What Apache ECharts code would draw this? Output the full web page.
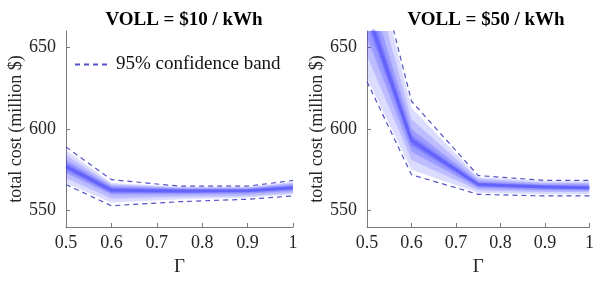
<!DOCTYPE html>
<html>
<head>
<meta charset="utf-8">
<script src="https://cdn.jsdelivr.net/npm/echarts@6/dist/echarts.min.js"></script>
<style>
  html, body { margin: 0; padding: 0; background: #fff; }
  #chart { width: 597px; height: 282px; }
</style>
</head>
<body>
<div id="chart"></div>
<script>
// Γ values sampled
var gammas = [0.5, 0.6, 0.75, 0.9, 1];
var yTicks = [550, 600, 650];

// VOLL = $10 / kWh
var left95Upper = [589, 569, 565, 565, 568.5];
var left95Lower = [566, 553, 555.5, 557, 559];
var leftFillUpper = [587, 567, 564.5, 564.5, 567.5];
var leftFillLower = [567, 555, 557, 558, 560];
var leftMid1Upper = [584, 566, 564, 564, 567];
var leftMid1Lower = [570, 557.5, 558.5, 559, 561];
var leftMid2Upper = [581, 565, 563.5, 563.5, 566];
var leftMid2Lower = [573, 560, 560, 560.5, 562];
var leftCoreUpper = [579, 564, 563, 563, 565];
var leftCoreLower = [575, 561, 561, 561.5, 563];
var leftMedian = [577, 562.5, 562, 562.2, 564];

// VOLL = $50 / kWh
var right95Upper = [725, 617, 571.5, 568.5, 568.5];
var right95Lower = [629, 572, 560, 559, 559];
var rightFillUpper = [722, 613, 570.5, 568, 568];
var rightFillLower = [631, 575, 561, 560, 560];
var rightMid1Upper = [705, 606, 569.5, 567, 567];
var rightMid1Lower = [645, 581, 562.5, 561.5, 561.5];
var rightMid2Upper = [690, 600, 568, 566, 566];
var rightMid2Lower = [656, 586, 564, 562.5, 562.5];
var rightCoreUpper = [680, 596, 567, 565.5, 565];
var rightCoreLower = [665, 590, 565, 563.5, 563];
var rightMedian = [672, 593, 566, 564.5, 564];

var serif = "Liberation Serif";
var textColor = "#262626";
var axisColor = "#7a7a7a";
var dashColor = "#5252c8";

function pairs(ys) {
  return gammas.map(function (g, i) { return [g, ys[i]]; });
}

// one band drawn as a single polygon, positions from api.coord
function band(idx, lower, upper, alpha) {
  var rows = gammas.map(function (g, i) { return [g, lower[i], upper[i]]; });
  var fill = "rgba(70, 70, 255, " + alpha + ")";
  return {
    type: "custom", xAxisIndex: idx, yAxisIndex: idx, silent: true, z: 1,
    data: rows,
    encode: { x: 0, y: [1, 2] },
    renderItem: function (params, api) {
      if (params.dataIndex !== 0) return null;
      var pts = [];
      rows.forEach(function (r) { pts.push(api.coord([r[0], r[2]])); });
      rows.slice().reverse().forEach(function (r) { pts.push(api.coord([r[0], r[1]])); });
      var cs = params.coordSys;
      return {
        type: "polygon",
        shape: { points: pts },
        style: { fill: fill, shadowBlur: 3, shadowColor: fill },
        clipPath: { type: "rect", shape: { x: cs.x, y: cs.y, width: cs.width, height: cs.height } }
      };
    }
  };
}

function median(idx, ys) {
  return {
    type: "line", xAxisIndex: idx, yAxisIndex: idx,
    data: pairs(ys), symbol: "none", silent: true,
    lineStyle: { color: "rgba(60, 60, 245, 0.35)", width: 3, shadowBlur: 5, shadowColor: "rgba(60, 60, 245, 0.5)" }, z: 2
  };
}

function dashed(idx, ys, name) {
  return {
    type: "line", name: name, xAxisIndex: idx, yAxisIndex: idx,
    data: pairs(ys), symbol: "none", silent: true,
    itemStyle: { color: dashColor },
    lineStyle: { color: dashColor, width: 1.2, type: [5, 4] }, z: 3
  };
}

function xAxisOf(idx) {
  return {
    type: "value", gridIndex: idx, min: 0.5, max: 1, interval: 0.1,
    name: "Γ", nameLocation: "middle", nameGap: 31,
    nameTextStyle: { fontFamily: serif, fontSize: 19, color: textColor },
    axisLine: { lineStyle: { color: axisColor, width: 1 } },
    axisTick: { inside: true, length: 4, lineStyle: { color: axisColor } },
    axisLabel: {
      fontFamily: serif, fontSize: 18, color: textColor, margin: 7,
      formatter: function (v) { return String(+v.toFixed(1)); }
    },
    splitLine: { show: false }
  };
}

function yAxisOf(idx) {
  return {
    type: "value", gridIndex: idx, min: 540, max: 660,
    name: "total cost (million $)", nameLocation: "middle", nameGap: 40,
    nameTextStyle: { fontFamily: serif, fontSize: 18, color: textColor },
    axisLine: { show: true, lineStyle: { color: axisColor, width: 1 } },
    axisTick: { show: true, inside: true, length: 4, customValues: yTicks, lineStyle: { color: axisColor } },
    axisLabel: { fontFamily: serif, fontSize: 18, color: textColor, margin: 10, customValues: yTicks },
    splitLine: { show: false }
  };
}

var series = [
  band(0, leftFillLower, leftFillUpper, 0.17),
  band(0, leftMid1Lower, leftMid1Upper, 0.18),
  band(0, leftMid2Lower, leftMid2Upper, 0.22),
  band(0, leftCoreLower, leftCoreUpper, 0.28),
  median(0, leftMedian),
  dashed(0, left95Upper, "95% confidence band"),
  dashed(0, left95Lower, "lower95L"),
  band(1, rightFillLower, rightFillUpper, 0.17),
  band(1, rightMid1Lower, rightMid1Upper, 0.18),
  band(1, rightMid2Lower, rightMid2Upper, 0.22),
  band(1, rightCoreLower, rightCoreUpper, 0.28),
  median(1, rightMedian),
  dashed(1, right95Upper, "upper95R"),
  dashed(1, right95Lower, "lower95R")
];

var chart = echarts.init(document.getElementById("chart"), null, { renderer: "canvas" });
chart.setOption({
  animation: false,
  backgroundColor: "#ffffff",
  textStyle: { fontFamily: serif },
  title: [
    { text: "VOLL = $10 / kWh", left: 179, top: 6, textAlign: "center",
      textStyle: { fontFamily: serif, fontSize: 19, fontWeight: "bold", color: "#000" } },
    { text: "VOLL = $50 / kWh", left: 481, top: 6, textAlign: "center",
      textStyle: { fontFamily: serif, fontSize: 19, fontWeight: "bold", color: "#000" } }
  ],
  legend: {
    show: true,
    data: ["95% confidence band"],
    left: 74, top: 55, itemWidth: 36, itemHeight: 14, itemGap: 6,
    padding: 0,
    itemStyle: { opacity: 0 },
    textStyle: { fontFamily: serif, fontSize: 19, color: "#111" }
  },
  grid: [
    { left: 66, top: 31, width: 227, height: 201 },
    { left: 367, top: 31, width: 227, height: 201 }
  ],
  xAxis: [xAxisOf(0), xAxisOf(1)],
  yAxis: [yAxisOf(0), yAxisOf(1)],
  series: series
});
</script>
</body>
</html>
